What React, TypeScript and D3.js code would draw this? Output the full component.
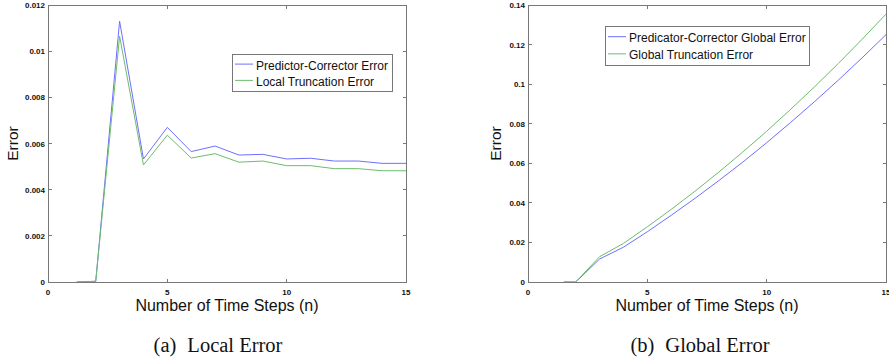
import React from "react";
import * as d3 from "d3";

// ---- data ----
const localSteps = [1.2, 2, 3, 4, 5, 6, 7, 8, 9, 10, 11, 12, 13, 14, 15];
const localPC = [0, 0.00003, 0.0113, 0.00533, 0.0067, 0.00565, 0.00589, 0.0055, 0.00553, 0.00533, 0.00536, 0.00524, 0.00524, 0.00514, 0.00514];
const localLTE = [0, 0.00003, 0.01065, 0.00507, 0.00636, 0.00537, 0.00556, 0.00519, 0.00524, 0.00504, 0.00504, 0.00491, 0.00491, 0.00482, 0.00482];

const globalSteps = [1.5, 2, 3, 4, 5, 6, 7, 8, 9, 10, 11, 12, 13, 14, 15];
const globalPC = [0, 0, 0.0116, 0.0176, 0.0254, 0.0337, 0.0423, 0.0513, 0.0606, 0.0704, 0.0806, 0.0911, 0.102, 0.1133, 0.125];
const globalGTE = [0, 0, 0.0128, 0.0195, 0.0279, 0.0367, 0.0459, 0.0556, 0.0657, 0.0762, 0.0872, 0.0986, 0.1104, 0.1227, 0.1354];

const xTicks = [0, 5, 10, 15];
const localYTicks = [0, 0.002, 0.004, 0.006, 0.008, 0.01, 0.012];
const localYLabels = ["0", "0.002", "0.004", "0.006", "0.008", "0.01", "0.012"];
const globalYTicks = [0, 0.02, 0.04, 0.06, 0.08, 0.1, 0.12, 0.14];
const globalYLabels = ["0", "0.02", "0.04", "0.06", "0.08", "0.1", "0.12", "0.14"];

const localLegend = ["Predictor-Corrector Error", "Local Truncation Error"];
const globalLegend = ["Predicator-Corrector Global Error", "Global Truncation Error"];

const BLUE = "#6f6fff";
const GREEN = "#6cbc6c";
const AXIS = "#777";
const SANS = "'Liberation Sans', Arial, Helvetica, sans-serif";
const SERIF = "'Liberation Serif', 'Times New Roman', serif";

type PanelProps = {
  x0: number; x1: number; y0: number; y1: number;
  steps: number[]; s1: number[]; s2: number[];
  yMax: number; yTicks: number[]; yLabels: string[];
  legend: string[]; legendBox: { x: number; y: number; w: number; h: number };
  caption: [string, string]; captionX: number; yLabelX: number;
};

function Panel(p: PanelProps) {
  const x = d3.scaleLinear().domain([0, 15]).range([p.x0, p.x1]);
  const y = d3.scaleLinear().domain([0, p.yMax]).range([p.y1, p.y0]);
  const line = d3.line<[number, number]>().x((d) => x(d[0])).y((d) => y(d[1]));
  const d1 = line(p.steps.map((s, i) => [s, p.s1[i]]))!;
  const d2 = line(p.steps.map((s, i) => [s, p.s2[i]]))!;
  const tl = 3.5;
  const cx = (p.x0 + p.x1) / 2;
  const lb = p.legendBox;
  return (
    <g>
      <rect x={p.x0} y={p.y0} width={p.x1 - p.x0} height={p.y1 - p.y0} fill="#fff" />
      <path d={d1} fill="none" stroke={BLUE} strokeWidth={1} />
      <path d={d2} fill="none" stroke={GREEN} strokeWidth={1} />
      <g shapeRendering="crispEdges" stroke={AXIS} strokeWidth={1}>
        <rect x={p.x0 + 0.5} y={p.y0 + 0.5} width={p.x1 - p.x0} height={p.y1 - p.y0} fill="none" />
        {xTicks.map((t) => (
          <g key={"xt" + t}>
            <line x1={x(t)} x2={x(t)} y1={p.y1} y2={p.y1 - tl} />
            <line x1={x(t)} x2={x(t)} y1={p.y0} y2={p.y0 + tl} />
          </g>
        ))}
        {p.yTicks.map((t) => (
          <g key={"yt" + t}>
            <line x1={p.x0} x2={p.x0 + tl} y1={y(t)} y2={y(t)} />
            <line x1={p.x1} x2={p.x1 - tl} y1={y(t)} y2={y(t)} />
          </g>
        ))}
      </g>
      <g fontFamily={SANS} fontSize={8} fontWeight="bold" fill="#111">
        {xTicks.map((t) => (
          <text key={"xl" + t} x={x(t)} y={p.y1 + 13} textAnchor="middle">{t}</text>
        ))}
        {p.yTicks.map((t, i) => (
          <text key={"yl" + t} x={p.x0 - 3} y={y(t) + 3} textAnchor="end">{p.yLabels[i]}</text>
        ))}
      </g>
      <text x={cx} y={311} textAnchor="middle" fontFamily={SANS} fontSize={16} fill="#111">
        Number of Time Steps (n)
      </text>
      <text transform={`translate(${p.yLabelX},${(p.y0 + p.y1) / 2}) rotate(-90)`} textAnchor="middle" fontFamily={SANS} fontSize={15.5} fill="#111">
        Error
      </text>
      <rect x={lb.x + 0.5} y={lb.y + 0.5} width={lb.w} height={lb.h} fill="#fff" stroke={AXIS} shapeRendering="crispEdges" />
      {p.legend.map((label, i) => {
        const ly = lb.y + lb.h * (0.3 + 0.44 * i);
        return (
          <g key={label}>
            <line x1={lb.x + 3} x2={lb.x + 21} y1={ly - 1} y2={ly - 1} stroke={i === 0 ? BLUE : GREEN} />
            <text x={lb.x + 24} y={ly + 4.5} fontFamily={SANS} fontSize={12} fill="#111">{label}</text>
          </g>
        );
      })}
      <text x={p.captionX} y={352} textAnchor="middle" fontFamily={SERIF} fontSize={20.5} fill="#111">
        {p.caption[0]}
        <tspan dx={11}>{p.caption[1]}</tspan>
      </text>
    </g>
  );
}

export default function App() {
  return (
    <svg width={889} height={362} style={{ position: "absolute", left: 0, top: 0, background: "#fff" }}>
      <rect width={889} height={362} fill="#fff" />
      <Panel
        x0={48} x1={406} y0={5} y1={282}
        steps={localSteps} s1={localPC} s2={localLTE}
        yMax={0.012} yTicks={localYTicks} yLabels={localYLabels}
        legend={localLegend} legendBox={{ x: 232, y: 54, w: 160, h: 37 }}
        caption={["(a)", "Local Error"]} captionX={218} yLabelX={18}
      />
      <Panel
        x0={528} x1={886} y0={5} y1={282}
        steps={globalSteps} s1={globalPC} s2={globalGTE}
        yMax={0.14} yTicks={globalYTicks} yLabels={globalYLabels}
        legend={globalLegend} legendBox={{ x: 605, y: 26, w: 204, h: 39 }}
        caption={["(b)", "Global Error"]} captionX={700} yLabelX={501}
      />
    </svg>
  );
}
